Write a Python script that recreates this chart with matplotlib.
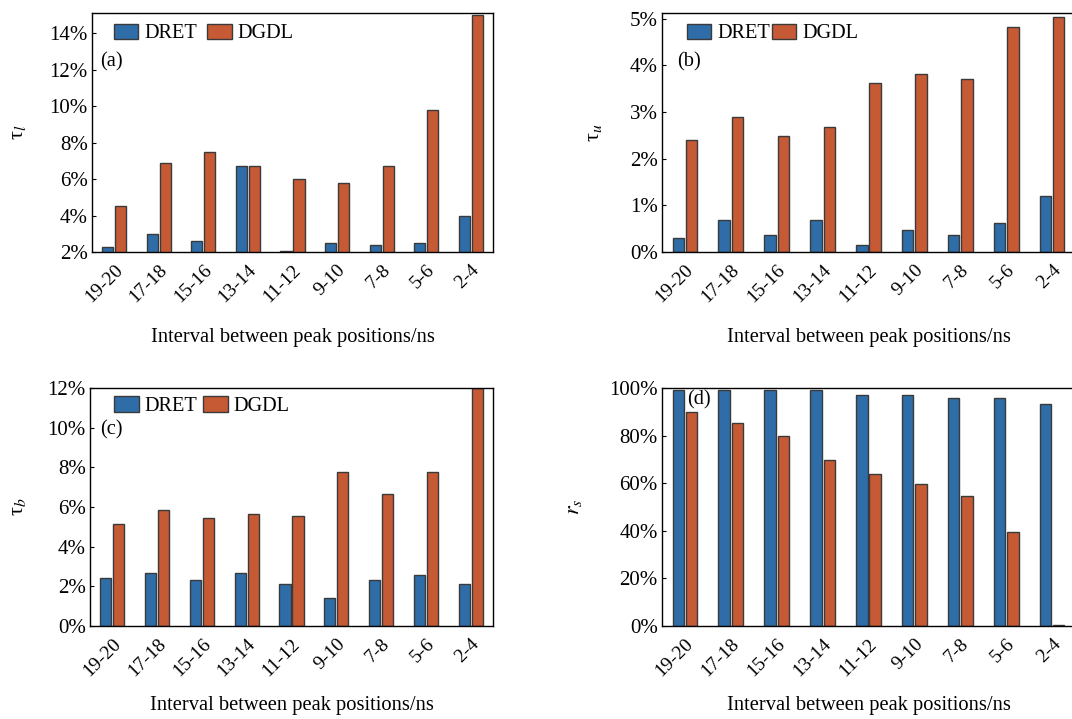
import matplotlib
matplotlib.use("Agg")
import matplotlib.pyplot as plt
import numpy as np
from matplotlib.ticker import FuncFormatter

plt.rcParams['font.family'] = ['Liberation Serif', 'DejaVu Serif']
plt.rcParams['mathtext.fontset'] = 'stix'

categories = ["19-20", "17-18", "15-16", "13-14", "11-12", "9-10", "7-8", "5-6", "2-4"]
series_names = ["DRET", "DGDL"]

tau_l_dret = [2.3, 3.0, 2.6, 6.7, 2.05, 2.5, 2.4, 2.5, 4.0]
tau_l_dgdl = [4.5, 6.9, 7.5, 6.7, 6.0, 5.8, 6.7, 9.8, 15.0]

tau_u_dret = [0.31, 0.68, 0.36, 0.68, 0.16, 0.48, 0.36, 0.63, 1.19]
tau_u_dgdl = [2.40, 2.90, 2.49, 2.68, 3.62, 3.82, 3.70, 4.83, 5.03]

tau_b_dret = [2.41, 2.66, 2.32, 2.66, 2.12, 1.43, 2.32, 2.59, 2.12]
tau_b_dgdl = [5.15, 5.84, 5.45, 5.64, 5.57, 7.76, 6.68, 7.76, 12.0]

r_s_dret = [99.0, 99.0, 99.0, 99.0, 97.0, 97.0, 95.9, 96.0, 93.1]
r_s_dgdl = [89.8, 85.1, 79.9, 69.8, 63.8, 59.7, 54.8, 39.7, 0.5]

blue = '#2E6DA8'
orange = '#C65A35'
W, H = 1072, 719
fig = plt.figure(figsize=(W / 100, H / 100), dpi=100)

def frac(l, r, t, b):
    return [l / W, 1 - b / H, (r - l) / W, (b - t) / H]

panels = [
    dict(rect=frac(92, 493, 13, 252), d=tau_l_dret, g=tau_l_dgdl, ylim=(2, 15.1),
         ticks=[2, 4, 6, 8, 10, 12, 14], ylabel=r'τ$_{l}$', ylx=-0.16, xly=-0.32,
         tag='(a)', tagxy=(0.02, 0.835), leg=(0.035, 0.99), colsp=0.5),
    dict(rect=frac(662, 1075, 13, 252), d=tau_u_dret, g=tau_u_dgdl, ylim=(0, 5.12),
         ticks=[0, 1, 2, 3, 4, 5], ylabel=r'τ$_{u}$', ylx=-0.14, xly=-0.32,
         tag='(b)', tagxy=(0.036, 0.835), leg=(0.04, 0.99), colsp=0.1),
    dict(rect=frac(90, 493, 388, 626), d=tau_b_dret, g=tau_b_dgdl, ylim=(0, 12),
         ticks=[0, 2, 4, 6, 8, 10, 12], ylabel=r'τ$_{b}$', ylx=-0.155, xly=-0.295,
         tag='(c)', tagxy=(0.025, 0.865), leg=(0.04, 1.0), colsp=0.3),
    dict(rect=frac(662, 1075, 388, 626), d=r_s_dret, g=r_s_dgdl, ylim=(0, 100),
         ticks=[0, 20, 40, 60, 80, 100], ylabel=r'$r_{s}$', ylx=-0.19, xly=-0.295,
         tag='(d)', tagxy=(0.06, 0.99), leg=None, colsp=0.5),
]

x = np.arange(len(categories))
bw = 0.25
off = 0.02
for p in panels:
    ax = fig.add_axes(p['rect'])
    ax.bar(x - bw / 2 - off, p['d'], bw, color=blue, edgecolor='#3a3a3a',
           linewidth=1.0, label=series_names[0])
    ax.bar(x + bw / 2 + off, p['g'], bw, color=orange, edgecolor='#3a3a3a',
           linewidth=1.0, label=series_names[1])
    ax.set_xlim(-0.5, len(categories) - 0.5)
    ax.set_ylim(*p['ylim'])
    ax.set_yticks(p['ticks'])
    ax.yaxis.set_major_formatter(FuncFormatter(lambda v, pos: f"{v:.0f}%"))
    ax.set_xticks(x)
    ax.set_xticklabels(categories, rotation=45, ha='right', rotation_mode='anchor',
                       fontsize=14)
    ax.tick_params(axis='y', direction='in', length=3, labelsize=15, pad=3)
    ax.tick_params(axis='x', length=0, pad=7)
    for s in ax.spines.values():
        s.set_linewidth(1.0)
    ax.set_xlabel('Interval between peak positions/ns', fontsize=14.8)
    ax.xaxis.set_label_coords(0.5, p['xly'])
    ax.set_ylabel(p['ylabel'], fontsize=16)
    ax.yaxis.set_label_coords(p['ylx'], 0.5)
    ax.text(p['tagxy'][0], p['tagxy'][1], p['tag'], transform=ax.transAxes,
            fontsize=14.7, va='top', ha='left')
    if p['leg'] is not None:
        ax.legend(loc='upper left', bbox_to_anchor=p['leg'], ncol=2, frameon=False,
                  fontsize=14.6, handlelength=1.2, handleheight=0.8, handletextpad=0.3,
                  columnspacing=p['colsp'], borderaxespad=0.2, borderpad=0.2)

fig.savefig('out.png', dpi=100)
